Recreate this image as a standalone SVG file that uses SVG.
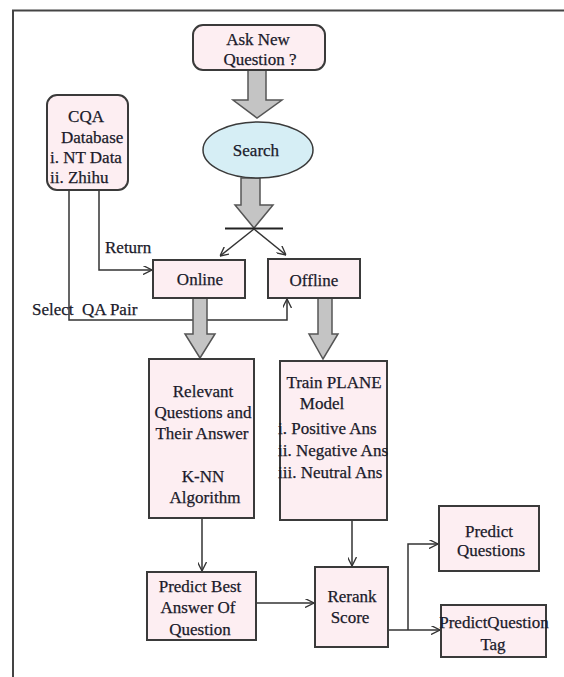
<svg xmlns="http://www.w3.org/2000/svg" width="564" height="677" viewBox="0 0 564 677">
<style>
.box{fill:#fdeef2;stroke:#3a3a3a;stroke-width:2}
.big{fill:#c4c4c4;stroke:#555;stroke-width:1.5}
.ln{fill:none;stroke:#333;stroke-width:1.5}
text{font-family:"Liberation Serif","Times New Roman",serif;font-size:17px;fill:#1a1a2a;stroke:#1a1a2a;stroke-width:0.25}
.c{text-anchor:middle}
</style>
<defs>
<marker id="ah" viewBox="0 0 10 10" refX="10" refY="5" markerWidth="9" markerHeight="9" markerUnits="userSpaceOnUse" orient="auto">
<path d="M0,0 L10,5 L0,10" fill="none" stroke="#333" stroke-width="1.5"/>
</marker>
</defs>
<rect width="564" height="677" fill="#fff"/>
<g id="frame">
<path d="M13,677 V10.5 H564" fill="none" stroke="#444" stroke-width="2"/>
</g>
<g id="connectors">
<path class="big" d="M248,70 V100 H233 L257,118 L282,100 H266 V70 Z"/>
<path class="big" d="M241,178 V205 H235 L254,228 L273,205 H260 V178 Z"/>
<line x1="225" y1="228.5" x2="283" y2="228.5" stroke="#222" stroke-width="2"/>
<path class="ln" d="M254,229 L220,256" marker-end="url(#ah)"/>
<path class="ln" d="M254,229 L286,255" marker-end="url(#ah)"/>
<path class="ln" d="M99,190 V270 H152" marker-end="url(#ah)"/>
<path class="ln" d="M69,190 V320 H287 V299" marker-end="url(#ah)"/>
<path class="big" d="M193,298 V334 H185 L200,358 L215,334 H207 V298 Z"/>
<path class="big" d="M318,298 V334 H309 L323,359 L338,334 H332 V298 Z"/>
<path class="ln" d="M202,518 V571" marker-end="url(#ah)"/>
<path class="ln" d="M352,520 V566" marker-end="url(#ah)"/>
<path class="ln" d="M256,603 H314" marker-end="url(#ah)"/>
<path class="ln" d="M388,630 H440" marker-end="url(#ah)"/>
<path class="ln" d="M408,630 V544 H438" marker-end="url(#ah)"/>
</g>
<g id="ask">
<rect class="box" x="193" y="25" width="132" height="45" rx="10"/>
<text class="c" x="258" y="45">Ask New</text>
<text class="c" x="260" y="65">Question ?</text>
</g>
<g id="search">
<ellipse cx="258" cy="150" rx="55" ry="28" fill="#d6eef5" stroke="#3a3a3a" stroke-width="1.5"/>
<text class="c" x="256" y="156">Search</text>
</g>
<g id="cqa">
<rect class="box" x="47" y="95" width="81" height="95" rx="10"/>
<text class="c" x="86" y="122">CQA</text>
<text x="61" y="143">Database</text>
<text x="50" y="163">i. NT Data</text>
<text x="50" y="183">ii. Zhihu</text>
</g>
<g id="labels">
<text x="105" y="253">Return</text>
<text x="32" y="315" xml:space="preserve">Select  QA Pair</text>
</g>
<g id="online">
<rect class="box" x="153" y="260" width="92" height="38"/>
<text class="c" x="200" y="285">Online</text>
</g>
<g id="offline">
<rect class="box" x="268" y="259" width="92" height="39"/>
<text class="c" x="314" y="286">Offline</text>
</g>
<g id="relevant">
<rect class="box" x="149" y="359" width="105" height="159"/>
<text class="c" x="203" y="397">Relevant</text>
<text class="c" x="203" y="418">Questions and</text>
<text class="c" x="202" y="439">Their Answer</text>
<text class="c" x="203" y="482">K-NN</text>
<text class="c" x="205" y="503">Algorithm</text>
</g>
<g id="train">
<rect class="box" x="280" y="361" width="107" height="159"/>
<text class="c" x="334" y="388">Train PLANE</text>
<text class="c" x="322" y="409">Model</text>
<text x="278" y="434">i. Positive Ans</text>
<text x="278" y="456">ii. Negative Ans</text>
<text x="278" y="478">iii. Neutral Ans</text>
</g>
<g id="predictbest">
<rect class="box" x="147" y="572" width="109" height="68"/>
<text class="c" x="200" y="592">Predict Best</text>
<text class="c" x="198" y="613">Answer Of</text>
<text class="c" x="200" y="635">Question</text>
</g>
<g id="rerank">
<rect class="box" x="315" y="567" width="73" height="80"/>
<text class="c" x="352" y="602">Rerank</text>
<text class="c" x="350" y="623">Score</text>
</g>
<g id="predictq">
<rect class="box" x="439" y="506" width="100" height="65"/>
<text class="c" x="489" y="537">Predict</text>
<text class="c" x="491" y="556">Questions</text>
</g>
<g id="predicttag">
<rect class="box" x="441" y="605" width="105" height="52"/>
<text class="c" x="494" y="628">PredictQuestion</text>
<text class="c" x="493" y="650">Tag</text>
</g>
</svg>
